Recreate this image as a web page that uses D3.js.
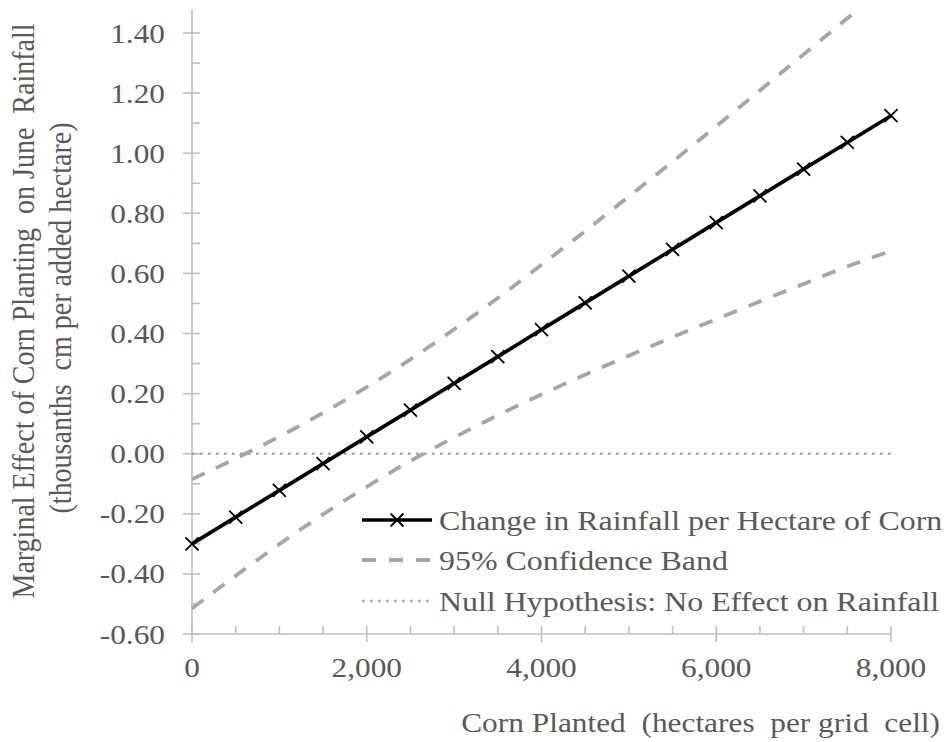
<!DOCTYPE html>
<html>
<head>
<meta charset="utf-8">
<script src="https://cdn.jsdelivr.net/npm/d3@7"></script>
<style>
  html, body { margin: 0; padding: 0; background: #ffffff; }
  svg { display: block; }
  text { font-family: "Liberation Serif", "Times New Roman", serif; fill: #595959; white-space: pre; }
</style>
</head>
<body>
<svg id="chart" width="948" height="742"></svg>
<script>
// ---- data ----
const cornPlanted = [0, 500, 1000, 1500, 2000, 2500, 3000, 3500, 4000, 4500, 5000, 5500, 6000, 6500, 7000, 7500, 8000];
const rainfallChange = [-0.300, -0.211, -0.122, -0.033, 0.056, 0.145, 0.234, 0.323, 0.413, 0.502, 0.591, 0.680, 0.769, 0.858, 0.947, 1.036, 1.125];
const upperBand = [-0.085, -0.016, 0.057, 0.136, 0.222, 0.314, 0.414, 0.518, 0.629, 0.741, 0.856, 0.972, 1.090, 1.209, 1.329, 1.449, 1.569];
const lowerBand = [-0.515, -0.406, -0.301, -0.202, -0.110, -0.024, 0.054, 0.128, 0.197, 0.263, 0.326, 0.388, 0.448, 0.507, 0.565, 0.623, 0.675];
const nullEffect = [0, 0, 0, 0, 0, 0, 0, 0, 0, 0, 0, 0, 0, 0, 0, 0, 0];

const yTickValues = [-0.6, -0.4, -0.2, 0, 0.2, 0.4, 0.6, 0.8, 1.0, 1.2, 1.4];
const yTickLabels = ["-0.60", "-0.40", "-0.20", "0.00", "0.20", "0.40", "0.60", "0.80", "1.00", "1.20", "1.40"];
const yMinorTicks = [-0.5, -0.3, -0.1, 0.1, 0.3, 0.5, 0.7, 0.9, 1.1, 1.3];
const xTickValues = [0, 2000, 4000, 6000, 8000];
const xTickLabels = ["0", "2,000", "4,000", "6,000", "8,000"];
const xMinorTicks = [500, 1000, 1500, 2500, 3000, 3500, 4500, 5000, 5500, 6500, 7000, 7500];

const legendLabels = ["Change in Rainfall per Hectare of Corn", "95% Confidence Band", "Null Hypothesis: No Effect on Rainfall"];
const yTitleLines = ["Marginal Effect of Corn Planting  on June  Rainfall", "(thousanths  cm per added hectare)"];
const xTitle = "Corn Planted  (hectares  per grid  cell)";

// ---- layout ----
const svg = d3.select("#chart");
const plotLeft = 192, plotRight = 891, plotTop = 9, plotBottom = 634;
const sx = 1.12;          // horizontal glyph stretch seen in the reference
const legendSx = 1.14;
const fontSize = 28;
const axisColor = "#bfbfbf";
const bandColor = "#a6a6a6";

const x = d3.scaleLinear().domain([0, 8000]).range([plotLeft, plotRight]);
const y = d3.scaleLinear().domain([-0.6, 1.48]).range([plotBottom, plotTop]);

const pts = arr => cornPlanted.map((c, i) => [c, arr[i]]);

svg.append("defs").append("clipPath").attr("id", "plotclip")
  .append("rect").attr("x", plotLeft - 2).attr("y", plotTop).attr("width", plotRight - plotLeft + 4).attr("height", plotBottom - plotTop + 2);

// ---- axes ----
const axes = svg.append("g");
axes.append("line").attr("x1", plotLeft).attr("x2", plotLeft).attr("y1", plotTop).attr("y2", plotBottom)
  .attr("stroke", axisColor).attr("stroke-width", 1.6);
axes.append("line").attr("x1", plotLeft).attr("x2", plotRight).attr("y1", plotBottom).attr("y2", plotBottom)
  .attr("stroke", axisColor).attr("stroke-width", 1.6);

axes.selectAll(".ymaj").data(yTickValues).join("line")
  .attr("x1", plotLeft - 9).attr("x2", plotLeft + 8)
  .attr("y1", d => y(d)).attr("y2", d => y(d))
  .attr("stroke", axisColor).attr("stroke-width", 1.6);
axes.selectAll(".ymin").data(yMinorTicks).join("line")
  .attr("x1", plotLeft).attr("x2", plotLeft + 8)
  .attr("y1", d => y(d)).attr("y2", d => y(d))
  .attr("stroke", axisColor).attr("stroke-width", 1.6);
axes.selectAll(".xmaj").data(xTickValues).join("line")
  .attr("x1", d => x(d)).attr("x2", d => x(d))
  .attr("y1", plotBottom - 8).attr("y2", plotBottom + 8)
  .attr("stroke", axisColor).attr("stroke-width", 1.6);
axes.selectAll(".xmin").data(xMinorTicks).join("line")
  .attr("x1", d => x(d)).attr("x2", d => x(d))
  .attr("y1", plotBottom - 8).attr("y2", plotBottom)
  .attr("stroke", axisColor).attr("stroke-width", 1.6);

// tick labels
svg.append("g").selectAll("g").data(yTickValues).join("g")
  .attr("transform", d => `translate(${plotLeft - 27},${y(d)}) scale(${sx},1)`)
  .append("text")
  .attr("text-anchor", "end").attr("dy", "0.34em")
  .style("font-size", fontSize + "px")
  .text((d, i) => yTickLabels[i]);

svg.append("g").selectAll("g").data(xTickValues).join("g")
  .attr("transform", d => `translate(${x(d)},${677}) scale(${sx},1)`)
  .append("text")
  .attr("text-anchor", "middle")
  .style("font-size", fontSize + "px")
  .text((d, i) => xTickLabels[i]);

// axis titles
svg.append("g").attr("transform", `translate(940,732) scale(${sx},1)`)
  .append("text").attr("text-anchor", "end").style("font-size", fontSize + "px").text(xTitle);

svg.append("g").attr("transform", `translate(34,311) scale(${sx},1) rotate(-90)`)
  .append("text").attr("text-anchor", "middle").style("font-size", fontSize + "px").text(yTitleLines[0]);
svg.append("g").attr("transform", `translate(71,318) scale(${sx},1) rotate(-90)`)
  .append("text").attr("text-anchor", "middle").style("font-size", fontSize + "px").text(yTitleLines[1]);

// ---- series ----
const lineGen = d3.line().x(d => x(d[0])).y(d => y(d[1]));
const smoothGen = d3.line().x(d => x(d[0])).y(d => y(d[1])).curve(d3.curveMonotoneX);

const plot = svg.append("g");
// null hypothesis line
plot.append("path").datum(pts(nullEffect)).attr("d", lineGen)
  .attr("fill", "none").attr("stroke", bandColor).attr("stroke-width", 2.6)
  .attr("stroke-dasharray", "2.6,5.4");

// confidence bands
const bands = plot.append("g").attr("clip-path", "url(#plotclip)");
[upperBand, lowerBand].forEach(b => {
  bands.append("path").datum(pts(b)).attr("d", smoothGen)
    .attr("fill", "none").attr("stroke", bandColor).attr("stroke-width", 3.8)
    .attr("stroke-dasharray", "14,12.5");
});

// main effect line
plot.append("path").datum(pts(rainfallChange)).attr("d", lineGen)
  .attr("fill", "none").attr("stroke", "#000").attr("stroke-width", 3.6)
  .attr("stroke-linejoin", "round");

const xMark = "M-6.5,-6.5L6.5,6.5M-6.5,6.5L6.5,-6.5";
plot.selectAll(".mk").data(pts(rainfallChange)).join("path")
  .attr("transform", d => `translate(${x(d[0])},${y(d[1])})`)
  .attr("d", xMark).attr("stroke", "#000").attr("stroke-width", 1.8).attr("fill", "none");

// ---- legend ----
const legendRows = [520, 560, 601];
const lx0 = 362, lx1 = 432, ltx = 439;
const leg = svg.append("g");
leg.append("line").attr("x1", lx0).attr("x2", lx1).attr("y1", legendRows[0]).attr("y2", legendRows[0])
  .attr("stroke", "#000").attr("stroke-width", 3.6);
leg.append("path").attr("transform", `translate(${(lx0 + lx1) / 2},${legendRows[0]})`)
  .attr("d", xMark).attr("stroke", "#000").attr("stroke-width", 1.8);
leg.append("line").attr("x1", lx0).attr("x2", lx1).attr("y1", legendRows[1]).attr("y2", legendRows[1])
  .attr("stroke", bandColor).attr("stroke-width", 3.8).attr("stroke-dasharray", "14,13");
leg.append("line").attr("x1", lx0).attr("x2", lx1 - 3).attr("y1", legendRows[2]).attr("y2", legendRows[2])
  .attr("stroke", bandColor).attr("stroke-width", 2.6).attr("stroke-dasharray", "2.6,5.4");

leg.selectAll("g.lt").data(legendLabels).join("g")
  .attr("transform", (d, i) => `translate(${ltx},${legendRows[i]}) scale(${legendSx},1)`)
  .append("text").attr("dy", "0.34em").style("font-size", fontSize + "px")
  .text(d => d);
</script>
</body>
</html>
